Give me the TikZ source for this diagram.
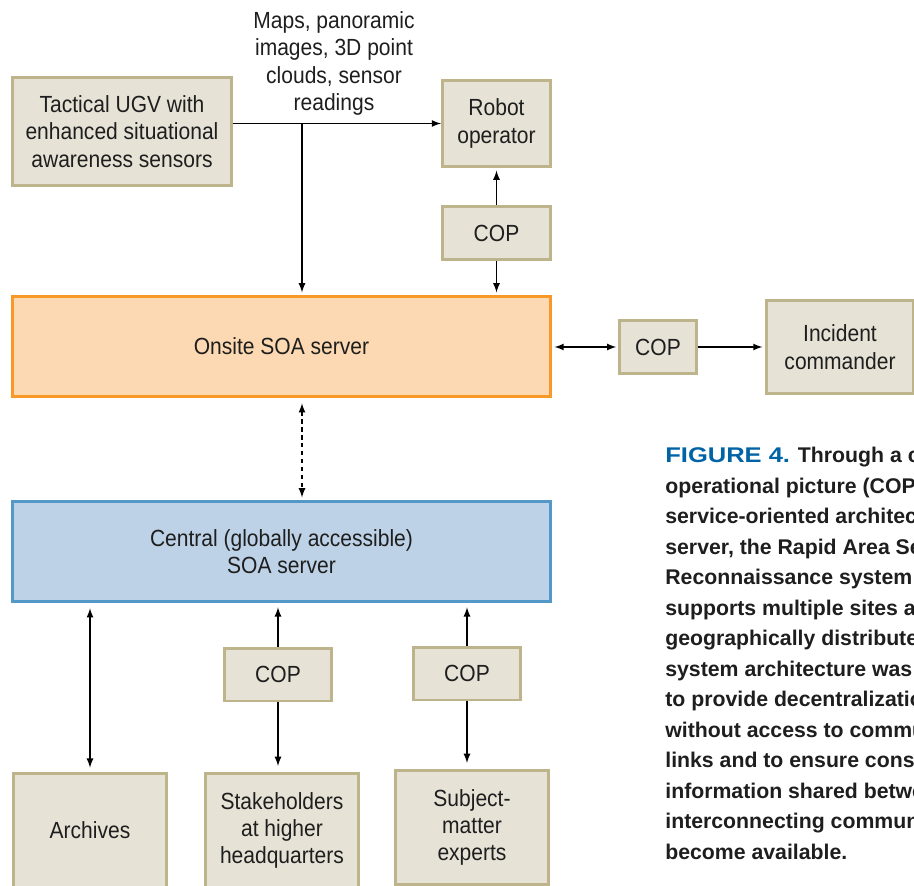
\documentclass[tikz,border=0pt]{standalone}
\usepackage{fontspec}
\setmainfont{Liberation Sans}[FakeStretch=0.9]
\newfontfamily\capfont{Liberation Sans}
\newfontfamily\figfont{Liberation Sans}[FakeStretch=1.2]
\usepackage{xcolor}
\usepackage{tikz}
\usetikzlibrary{calc}
\usetikzlibrary{positioning}

\definecolor{boxfill}{RGB}{230,226,214}
\definecolor{boxline}{RGB}{190,180,140}
\definecolor{sitefill}{RGB}{252,217,178}
\definecolor{siteline}{RGB}{247,152,41}
\definecolor{hubfill}{RGB}{189,210,230}
\definecolor{hubline}{RGB}{84,152,200}
\definecolor{figblue}{RGB}{0,99,166}
\definecolor{ink}{RGB}{30,30,30}
\newcommand{\diagfont}{\fontsize{13.3}{15.6}\selectfont}

\begin{document}
\begin{tikzpicture}[x=0.02cm, y=-0.02cm, >=latex,
  box/.style={rectangle, draw=boxline, fill=boxfill, line width=1.7pt, align=center, inner sep=0pt, text=ink, font=\diagfont},
  site/.style={rectangle, draw=siteline, fill=sitefill, line width=1.7pt, align=center, minimum width=10.76cm, minimum height=2cm, text=ink, font=\diagfont},
  hub/.style={rectangle, draw=hubline, fill=hubfill, line width=1.7pt, align=center, minimum width=10.76cm, minimum height=2cm, text=ink, font=\diagfont},
  cop/.style={box, minimum width=2.16cm, minimum height=1.06cm},
  link/.style={->, line width=0.8pt, draw=black, shorten >=1.5pt}]

  \clip (0,0) rectangle (914,886);

  \node[box, minimum width=4.38cm, minimum height=2.16cm] (ugv) at (122,131.5) {Tactical UGV with\\enhanced situational\\awareness sensors};
  \node[box, minimum width=2.16cm, minimum height=1.72cm] (robot) at (496.5,123.5) {Robot\\operator};
  \node[cop] (cop1) at (496.5,233) {COP};
  \node[site] (site) at (281.5,346.5) {Onsite SOA server};
  \node[cop, minimum width=1.54cm] (cop2) at (658,347) {COP};
  \node[box, minimum width=2.94cm, minimum height=1.86cm] (incident) at (840,347) {Incident\\commander};
  \node[hub] (central) at (281.5,551.5) {Central (globally accessible)\\SOA server};
  \node[cop] (cop3) at (278,674.5) {COP};
  \node[cop] (cop4) at (467,673.5) {COP};
  \node[box, minimum width=3.06cm, minimum height=2.28cm] (archives) at (90,830.5) {Archives};
  \node[box, minimum width=3.06cm, minimum height=2.28cm] (stake) at (282,830.5) {Stakeholders\\at higher\\headquarters};
  \node[box, minimum width=3.06cm, minimum height=2.28cm] (experts) at (472,827.5) {Subject-\\matter\\experts};

  \node[align=center, text=ink, font=\diagfont] (data) at (334,63.5) {Maps, panoramic\\images, 3D point\\clouds, sensor\\readings};
  \coordinate (split) at (302,123.5);

  \draw[link, shorten >=0pt] (ugv.east |- robot.west) -- (robot.west);
  \draw[link] (split) -- (split |- site.north);
  \draw[link] (cop1) -- (robot);
  \draw[link] (cop1) -- (site.north -| cop1);
  \draw[link, <->, shorten <=1pt] (cop2) -- (site.east |- cop2);
  \draw[link] (cop2) -- (incident);
  \draw[link, <->, dashed, dash pattern=on 2.5pt off 2pt, shorten <=3pt] (site.south -| split) -- (central.north -| split);
  \draw[link, <->, shorten <=3pt, shorten >=2.5pt] (central.south -| archives) -- (archives);
  \draw[link, shorten >=2.5pt] (cop3) -- (central.south -| cop3);
  \draw[link, shorten >=3.5pt] (cop3) -- (stake.north -| cop3);
  \draw[link, shorten >=2.5pt] (cop4) -- (central.south -| cop4);
  \draw[link, shorten >=3.5pt] (cop4) -- (experts.north -| cop4);

  % caption, cut at the right edge
  \node[anchor=north west, inner sep=0pt, align=left, text=ink, font=\capfont\bfseries\fontsize{12.1}{17.35}\selectfont] (caption) at (665,447) {{\figfont\color{figblue}FIGURE 4.} Through a common\\
    operational picture (COP)\\
    service-oriented architecture\\
    server, the Rapid Area Sensor\\
    Reconnaissance system\\
    supports multiple sites and\\
    geographically distributed\\
    system architecture was\\
    to provide decentralization\\
    without access to communication\\
    links and to ensure consistency\\
    information shared between\\
    interconnecting communication\\
    become available.};
\end{tikzpicture}
\end{document}
